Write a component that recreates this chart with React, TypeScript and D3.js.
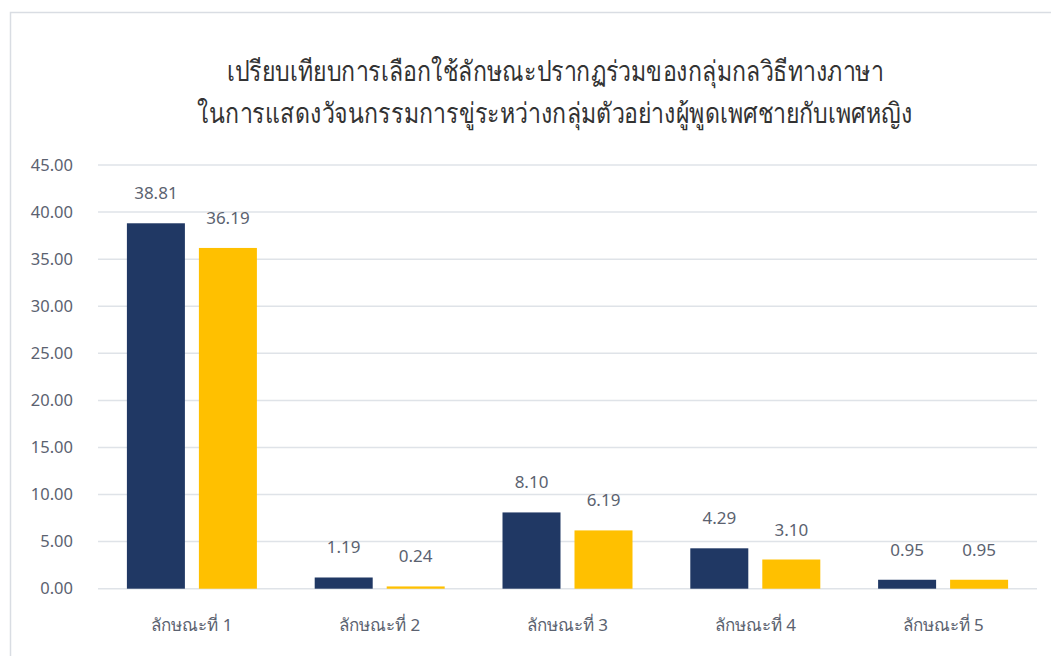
import React from "react";
import * as d3 from "d3";

const categories = ["ลักษณะที่ 1", "ลักษณะที่ 2", "ลักษณะที่ 3", "ลักษณะที่ 4", "ลักษณะที่ 5"];
const maleValues = [38.81, 1.19, 8.1, 4.29, 0.95];
const femaleValues = [36.19, 0.24, 6.19, 3.1, 0.95];
const yTicks = [0, 5, 10, 15, 20, 25, 30, 35, 40, 45];
const titleLines = [
  "เปรียบเทียบการเลือกใช้ลักษณะปรากฏร่วมของกลุ่มกลวิธีทางภาษา",
  "ในการแสดงวัจนกรรมการขู่ระหว่างกลุ่มตัวอย่างผู้พูดเพศชายกับเพศหญิง",
];

const W = 1051;
const H = 656;
const plot = { left: 98, right: 1037, top: 165, bottom: 588.7 };
const NAVY = "#203864";
const GOLD = "#FFC000";
const TEXT = "#5b6270";
const FONT = "'Noto Sans', 'Open Sans', sans-serif";
const TITLE_X = 555;

export default function App() {
  const x = d3
    .scaleBand<string>()
    .domain(categories)
    .range([plot.left, plot.right])
    .paddingInner(0)
    .paddingOuter(0);
  const y = d3.scaleLinear().domain([0, 45]).range([plot.bottom, plot.top]);
  const barW = 58;
  const gap = 7;

  const series = [
    { values: maleValues, color: NAVY, offset: -gap - barW },
    { values: femaleValues, color: GOLD, offset: gap },
  ];

  return (
    <svg
      width={W}
      height={H}
      style={{ position: "absolute", left: 0, top: 0, background: "#fff" }}
    >
      <rect x={0} y={0} width={W} height={H} fill="#fff" />
      <rect x={10.5} y={12.5} width={1100} height={700} fill="#fff" stroke="#d9dde3" strokeWidth={1.5} />

      {/* condensed title: narrow the glyphs horizontally around the centre */}
      <g transform={`translate(${TITLE_X},0) scale(0.826,1)`}>
        {titleLines.map((t, i) => (
          <text
            key={i}
            x={0}
            y={81 + i * 42}
            textAnchor="middle"
            fontSize={28}
            fill="#333333"
            fontFamily={FONT}
            fontWeight={300}
          >
            {t}
          </text>
        ))}
      </g>

      {yTicks.map((t) => (
        <g key={t}>
          <line
            x1={plot.left}
            x2={plot.right}
            y1={y(t)}
            y2={y(t)}
            stroke="#dfe3e8"
            strokeWidth={1.5}
          />
          <text
            x={73}
            y={y(t) + 5.5}
            textAnchor="end"
            fontSize={16.5}
            fill={TEXT}
            fontFamily={FONT}
          >
            {t.toFixed(2)}
          </text>
        </g>
      ))}

      {series.map((s, si) =>
        categories.map((c, i) => {
          const cx = (x(c) as number) + x.bandwidth() / 2;
          const v = s.values[i];
          const bx = cx + s.offset;
          return (
            <g key={`${si}-${i}`}>
              <rect
                x={bx}
                y={y(v)}
                width={barW}
                height={y(0) - y(v)}
                fill={s.color}
              />
              <text
                x={bx + barW / 2}
                y={y(v) - 24}
                textAnchor="middle"
                fontSize={17}
                fill={TEXT}
                fontFamily={FONT}
              >
                {v.toFixed(2)}
              </text>
            </g>
          );
        })
      )}

      {categories.map((c) => (
        <text
          key={c}
          x={(x(c) as number) + x.bandwidth() / 2}
          y={631}
          textAnchor="middle"
          fontSize={17}
          fill={TEXT}
          fontFamily={FONT}
        >
          {c}
        </text>
      ))}
    </svg>
  );
}
